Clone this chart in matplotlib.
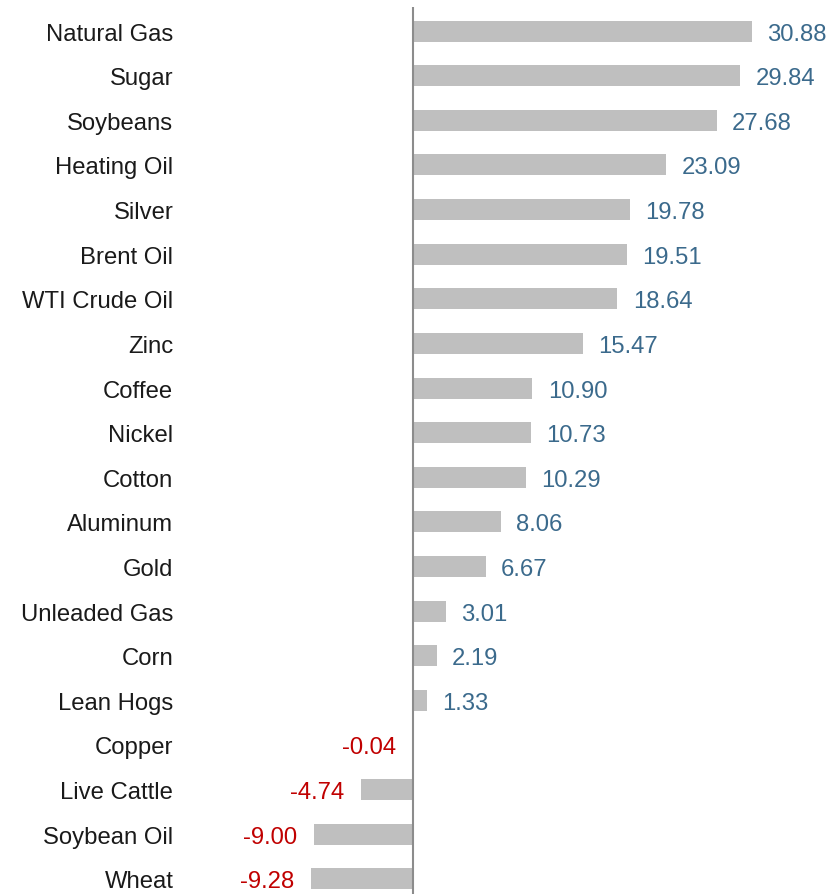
import matplotlib
matplotlib.use("Agg")
import matplotlib.pyplot as plt

categories = ["Natural Gas", "Sugar", "Soybeans", "Heating Oil", "Silver", "Brent Oil",
              "WTI Crude Oil", "Zinc", "Coffee", "Nickel", "Cotton", "Aluminum", "Gold",
              "Unleaded Gas", "Corn", "Lean Hogs", "Copper", "Live Cattle", "Soybean Oil", "Wheat"]
values = [30.88, 29.84, 27.68, 23.09, 19.78, 19.51, 18.64, 15.47, 10.90, 10.73, 10.29,
          8.06, 6.67, 3.01, 2.19, 1.33, -0.04, -4.74, -9.00, -9.28]

plt.rcParams['font.family'] = ['Liberation Sans', 'DejaVu Sans']

W, H = 838, 895
fig = plt.figure(figsize=(W / 100, H / 100), dpi=100)
left_px, top_px = 180, 8
ax = fig.add_axes([left_px / W, 0, 1 - left_px / W, (H - top_px) / H])

pos = list(range(len(categories)))
ax.barh(pos, values, height=0.47, color="#bfbfbf", edgecolor="none", zorder=2)
ax.axvline(0, color="#8c8c8c", lw=1.5, zorder=3)

ax.set_xlim(-21.19, 38.73)
ax.set_ylim(len(categories) - 1 + 0.34, -0.54)
ax.set_yticks(pos)
ax.set_yticklabels(categories, fontsize=17.2, color="#1a1a1a")
ax.tick_params(axis="y", length=0, pad=4.8)
ax.set_xticks([])
for s in ax.spines.values():
    s.set_visible(False)

for p, v in zip(pos, values):
    if v >= 0:
        ax.annotate(f"{v:.2f}", (v, p), xytext=(11.0, 0), textcoords="offset points",
                    ha="left", va="center_baseline", fontsize=17.2, color="#3b6a8c")
    else:
        ax.annotate(f"{v:.2f}", (v, p), xytext=(-11.8, 0), textcoords="offset points",
                    ha="right", va="center_baseline", fontsize=17.2, color="#c00000")

fig.savefig("out.png", dpi=100)
